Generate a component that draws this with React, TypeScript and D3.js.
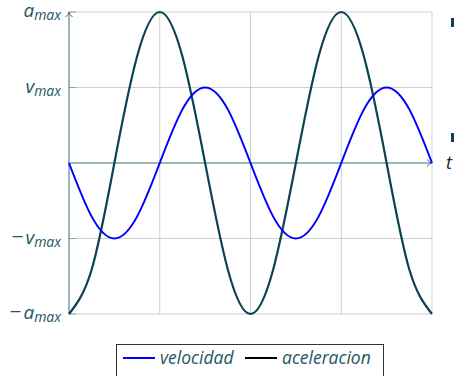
import React from "react";
import * as d3 from "d3";

// sample times (grid units) and values
const tValues = [0, 0.25, 0.5, 0.75, 1, 1.25, 1.5, 1.75, 2, 2.25, 2.5, 2.75, 3, 3.25, 3.5, 3.75, 4];
const velocidad = [0, -0.71, -1, -0.71, 0, 0.71, 1, 0.71, 0, -0.71, -1, -0.71, 0, 0.71, 1, 0.71, 0];
const aceleracion = [-2, -1.41, 0, 1.41, 2, 1.41, 0, -1.41, -2, -1.41, 0, 1.41, 2, 1.41, 0, -1.41, -2];
const yTickValues = [2, 1, -1, -2];
const yTickBase = ["a", "v", "v", "a"];
const yTickSign = ["", "", "\u2212", "\u2212"];
const xGridValues = [1, 2, 3, 4];
const legendLabels = ["velocidad", "aceleracion"];

const W = 454;
const H = 376;
const textColor = "#1d5566";
const axisColor = "#3b6c7c";
const accColor = "#0c4251";
const velColor = "#0000ff";
const font = "'Open Sans', Lato, sans-serif";

export default function App() {
  const x = d3.scaleLinear().domain([0, 4]).range([69, 432]);
  const y = d3.scaleLinear().domain([-2, 2]).range([314, 12]);
  const line = (vals: number[]) =>
    d3
      .line<number>()
      .x((_, i) => x(tValues[i]))
      .y((d) => y(d))
      .curve(d3.curveNatural)(vals) as string;

  const y0 = y(0);
  return (
    <svg
      width={W}
      height={H}
      style={{ position: "absolute", left: 0, top: 0 }}
      fontFamily={font}
    >
      {/* grid */}
      {yTickValues.map((v) => (
        <line key={"h" + v} x1={x(0)} x2={x(4)} y1={y(v)} y2={y(v)} stroke="#cfcfcf" strokeWidth={1} />
      ))}
      {xGridValues.map((v) => (
        <line key={"v" + v} x1={x(v)} x2={x(v)} y1={y(2)} y2={y(-2)} stroke="#cfcfcf" strokeWidth={1} />
      ))}
      {/* y ticks */}
      {yTickValues.map((v) => (
        <line key={"t" + v} x1={x(0)} x2={x(0) + 7} y1={y(v)} y2={y(v)} stroke="#9a9a9a" strokeWidth={1} />
      ))}
      {/* axes */}
      <line x1={x(0)} x2={x(4)} y1={y0} y2={y0} stroke={axisColor} strokeWidth={1} />
      <path
        d={`M${x(4) - 5},${y0 - 3.5} Q${x(4) - 2},${y0} ${x(4)},${y0} Q${x(4) - 2},${y0} ${x(4) - 5},${y0 + 3.5}`}
        fill="none"
        stroke={axisColor}
        strokeWidth={1}
      />
      <line x1={x(0)} x2={x(0)} y1={y(-2)} y2={y(2)} stroke={axisColor} strokeWidth={1} />
      <path
        d={`M${x(0) - 3.5},${y(2) + 5} Q${x(0)},${y(2) + 2} ${x(0)},${y(2)} Q${x(0)},${y(2) + 2} ${x(0) + 3.5},${y(2) + 5}`}
        fill="none"
        stroke={axisColor}
        strokeWidth={1}
      />
      {/* curves */}
      <path d={line(aceleracion)} fill="none" stroke={accColor} strokeWidth={2.2} />
      <path d={line(velocidad)} fill="none" stroke={velColor} strokeWidth={2} />
      {/* y tick labels */}
      {yTickValues.map((v, i) => (
        <text
          key={"l" + v}
          x={61}
          y={y(v) + 5}
          textAnchor="end"
          fill={textColor}
          fontStyle="italic"
          fontSize={19}
        >
          {yTickSign[i] ? (
            <tspan fontStyle="normal" fontSize={21}>{yTickSign[i]}</tspan>
          ) : null}
          <tspan dx={yTickSign[i] ? 2 : 0}>{yTickBase[i]}</tspan>
          <tspan fontSize={14} dy={3}>max</tspan>
        </text>
      ))}
      {/* t label */}
      <text x={446} y={169} fill="#222" fontStyle="italic" fontSize={18}>
        t
      </text>
      {/* small marks at right edge */}
      <rect x={451} y={18} width={3} height={9} fill={accColor} />
      <rect x={451} y={133} width={3} height={9} fill={accColor} />
      {/* legend */}
      <rect x={116.5} y={344.5} width={267} height={40} fill="white" stroke="#333" strokeWidth={1} />
      <line x1={123} x2={155} y1={358} y2={358} stroke={velColor} strokeWidth={2} />
      <text x={160} y={364} fill={textColor} fontStyle="italic" fontSize={17.5}>
        {legendLabels[0]}
      </text>
      <line x1={245} x2={277} y1={358} y2={358} stroke="#000" strokeWidth={2} />
      <text x={282} y={364} fill={textColor} fontStyle="italic" fontSize={17.5}>
        {legendLabels[1]}
      </text>
    </svg>
  );
}
